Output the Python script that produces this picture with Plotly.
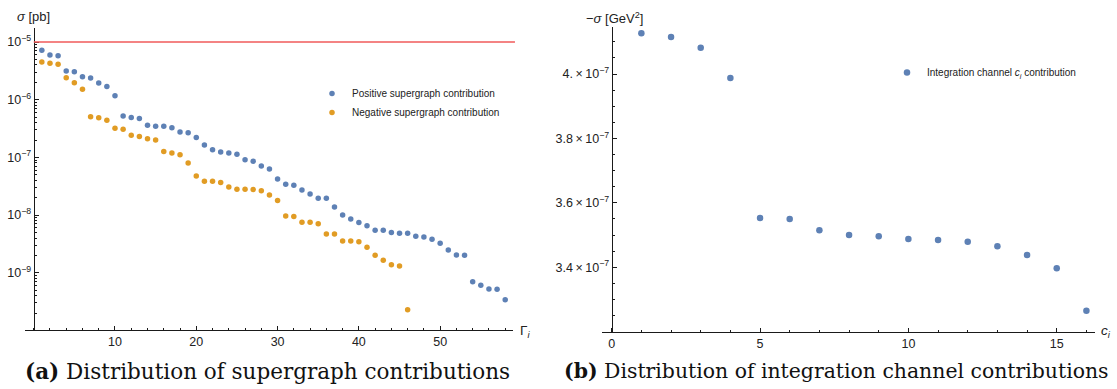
import plotly.graph_objects as go

# ---------------- data ----------------
# (a) supergraph contributions, sigma [pb]
pos_gamma = list(range(1, 59))
pos_sigma = [7.2e-6, 5.95e-6, 5.8e-6, 3.14e-6, 3.05e-6, 2.5e-6, 2.38e-6, 1.95e-6, 1.7e-6, 1.17e-6,
             5.2e-7, 4.9e-7, 4.7e-7, 3.6e-7, 3.46e-7, 3.46e-7, 3.27e-7, 2.76e-7, 2.68e-7, 2.2e-7,
             1.64e-7, 1.36e-7, 1.24e-7, 1.19e-7, 1.13e-7, 9.1e-8, 8.55e-8, 7.1e-8, 6.3e-8, 4.2e-8,
             3.42e-8, 3.28e-8, 2.72e-8, 2.32e-8, 1.95e-8, 1.95e-8, 1.38e-8, 1.0e-8, 8.55e-9, 7.4e-9,
             6.55e-9, 5.44e-9, 5.44e-9, 5.0e-9, 4.83e-9, 4.83e-9, 4.28e-9, 4.17e-9, 3.8e-9, 3.24e-9,
             2.48e-9, 2.03e-9, 2.0e-9, 7.0e-10, 6.05e-10, 5.24e-10, 5.18e-10, 3.39e-10]
neg_gamma = list(range(1, 47))
neg_sigma = [4.5e-6, 4.27e-6, 4.1e-6, 2.4e-6, 1.97e-6, 1.51e-6, 5.07e-7, 4.88e-7, 4.4e-7, 3.19e-7,
             3.07e-7, 2.42e-7, 2.29e-7, 2.11e-7, 2.0e-7, 1.26e-7, 1.19e-7, 1.11e-7, 8.0e-8, 4.76e-8,
             3.85e-8, 3.85e-8, 3.65e-8, 3.07e-8, 2.8e-8, 2.8e-8, 2.76e-8, 2.65e-8, 2.23e-8, 1.78e-8,
             9.6e-9, 9.4e-9, 7.5e-9, 7.5e-9, 7.1e-9, 4.7e-9, 4.7e-9, 3.55e-9, 3.55e-9, 3.46e-9,
             2.77e-9, 2.0e-9, 1.64e-9, 1.38e-9, 1.31e-9, 2.29e-10]
threshold = 1e-5

# (b) integration channel contributions, -sigma [GeV^2]
channels = list(range(1, 17))
channel_sigma = [4.127e-7, 4.115e-7, 4.082e-7, 3.988e-7, 3.553e-7, 3.550e-7, 3.515e-7, 3.500e-7,
                 3.496e-7, 3.488e-7, 3.485e-7, 3.479e-7, 3.465e-7, 3.438e-7, 3.397e-7, 3.265e-7]

left_ytickvals = [1e-5, 1e-6, 1e-7, 1e-8, 1e-9]
left_yticktext = ["10<sup>\u22125</sup>", "10<sup>\u22126</sup>", "10<sup>\u22127</sup>",
                  "10<sup>\u22128</sup>", "10<sup>\u22129</sup>"]
left_xtickvals = [10, 20, 30, 40, 50]
right_ytickvals = [3.4e-7, 3.6e-7, 3.8e-7, 4.0e-7]
right_yticktext = ["3.4\u2009\u00d7\u200910<sup>\u22127</sup>", "3.6\u2009\u00d7\u200910<sup>\u22127</sup>",
                   "3.8\u2009\u00d7\u200910<sup>\u22127</sup>", "4.\u2009\u00d7\u200910<sup>\u22127</sup>"]
right_xtickvals = [0, 5, 10, 15]

BLUE = "#5E81B5"
ORANGE = "#E19C24"
RED = "#F05A5A"
AX = "#1a1a1a"
W, H = 1117, 389
FONT = "Liberation Sans, Arial, sans-serif"
SERIF = "DejaVu Serif, serif"


def px(x):
    return x / W


def py(y):
    return 1 - y / H


fig = go.Figure()
fig.add_trace(go.Scatter(x=pos_gamma, y=pos_sigma, mode="markers", name="Positive supergraph contribution",
                         marker=dict(color=BLUE, size=5.5, line=dict(width=0)),
                         xaxis="x", yaxis="y", legend="legend"))
fig.add_trace(go.Scatter(x=neg_gamma, y=neg_sigma, mode="markers", name="Negative supergraph contribution",
                         marker=dict(color=ORANGE, size=5.5, line=dict(width=0)),
                         xaxis="x", yaxis="y", legend="legend"))
fig.add_trace(go.Scatter(x=channels, y=channel_sigma, mode="markers",
                         name="Integration channel <i>c</i><sub><i>i</i></sub> contribution",
                         marker=dict(color=BLUE, size=6.5, line=dict(width=0)),
                         xaxis="x2", yaxis="y2", legend="legend2"))

fig.add_shape(type="line", xref="x domain", yref="y", x0=0.018, x1=1.004, y0=threshold, y1=threshold,
              line=dict(color=RED, width=1.4))

common_axis = dict(showline=True, linecolor=AX, linewidth=1, showgrid=False, zeroline=False,
                   ticks="inside", tickcolor=AX, ticklen=4, tickwidth=1,
                   tickfont=dict(family=FONT, size=12.5, color="#222"))

fig.update_layout(
    width=W, height=H, margin=dict(l=0, r=0, t=0, b=0),
    paper_bgcolor="white", plot_bgcolor="white",
    xaxis=dict(domain=[px(25), px(513)], range=[-1.07, 58.96], anchor="y",
               tickmode="array", tickvals=left_xtickvals,
               minor=dict(ticks="inside", dtick=2, tick0=0, ticklen=2, tickcolor=AX, showgrid=False),
               **common_axis),
    yaxis=dict(domain=[py(330), py(28)], type="log", range=[-9.993, -4.757], anchor="free",
               position=px(33.7), tickmode="array", tickvals=left_ytickvals, ticktext=left_yticktext,
               minor=dict(ticks="inside", dtick="D1", ticklen=2.5, tickcolor=AX, showgrid=False),
               **common_axis),
    xaxis2=dict(domain=[px(601.7), px(1095)], range=[-0.337, 16.29], anchor="y2",
                tickmode="array", tickvals=right_xtickvals,
                minor=dict(ticks="inside", dtick=1, tick0=0, ticklen=2, tickcolor=AX, showgrid=False),
                **common_axis),
    yaxis2=dict(domain=[py(331.7), py(26.7)], range=[3.2e-7, 4.147e-7], anchor="free",
                position=px(611.7), tickmode="array", tickvals=right_ytickvals, ticktext=right_yticktext,
                minor=dict(ticks="inside", dtick=5e-9, tick0=0, ticklen=2.5, tickcolor=AX, showgrid=False),
                **common_axis),
    legend=dict(x=px(312), y=py(79), xanchor="left", yanchor="top", bgcolor="rgba(0,0,0,0)",
                font=dict(family=FONT, size=10, color="#222"), tracegroupgap=0, itemwidth=30),
    legend2=dict(x=px(887), y=py(58), xanchor="left", yanchor="top", bgcolor="rgba(0,0,0,0)",
                 font=dict(family=FONT, size=10, color="#222"), itemwidth=30),
    showlegend=True,
)

annots = [
    dict(text="<i>\u03c3</i> [pb]", x=px(15), y=py(17), xanchor="left", font=dict(family=FONT, size=13, color="#222")),
    dict(text="\u0393<sub><i>i</i></sub>", x=px(518), y=py(331), xanchor="left", font=dict(family=FONT, size=13.5, color="#222")),
    dict(text="\u2212<i>\u03c3</i> [GeV<sup>2</sup>]", x=px(584), y=py(18), xanchor="left", font=dict(family=FONT, size=13, color="#222")),
    dict(text="<i>c</i><sub><i>i</i></sub>", x=px(1099), y=py(331), xanchor="left", font=dict(family=FONT, size=13.5, color="#222")),
    dict(text="<b>(a)</b> Distribution of supergraph contributions", x=px(23), y=py(371), xanchor="left",
         font=dict(family=SERIF, size=21.5, color="#111")),
    dict(text="<b>(b)</b> Distribution of integration channel contributions", x=px(562), y=py(371), xanchor="left",
         font=dict(family=SERIF, size=20.4, color="#111")),
]
for a in annots:
    fig.add_annotation(xref="paper", yref="paper", yanchor="middle", showarrow=False, **a)

fig.write_html("out.html")
